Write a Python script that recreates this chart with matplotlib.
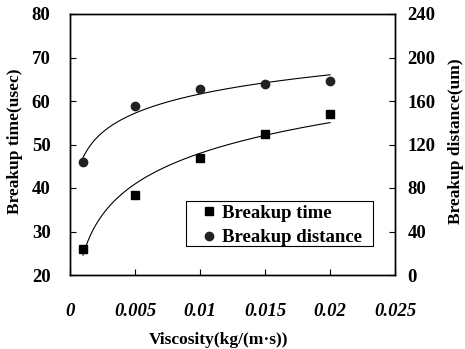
import numpy as np
import matplotlib
matplotlib.use("Agg")
import matplotlib.pyplot as plt
from matplotlib.lines import Line2D
from matplotlib.patches import Rectangle

viscosity = [0.001, 0.005, 0.01, 0.015, 0.02]
breakup_time = [26.0, 38.3, 46.8, 52.5, 57.0]
breakup_distance = [104, 155, 171, 176, 178]

xticks = [0, 0.005, 0.01, 0.015, 0.02, 0.025]
xticklabels = ["0", "0.005", "0.01", "0.015", "0.02", "0.025"]
yticks_left = [20, 30, 40, 50, 60, 70, 80]
yticks_right = [0, 40, 80, 120, 160, 200, 240]

plt.rcParams['font.family'] = ['Liberation Serif', 'DejaVu Serif']
plt.rcParams['font.weight'] = 'bold'

W, H = 465, 349
AX0, AY1, AW, AH = 70, 275, 325, 261
fig = plt.figure(figsize=(4.65, 3.49), dpi=100)
ax = fig.add_axes([AX0/W, 1-AY1/H, AW/W, AH/H])
ax2 = ax.twinx()

x = np.array(viscosity)
xf = np.linspace(x.min(), x.max(), 200)
c1 = np.polyfit(np.log(x), breakup_time, 1)
c2 = np.polyfit(np.log(x), breakup_distance, 1)

ax.plot(xf, np.polyval(c1, np.log(xf)), color='black', lw=0.8)
ax.plot(x, breakup_time, 's', color='black', ms=6)
ax2.plot(xf, np.polyval(c2, np.log(xf)), color='black', lw=0.8)
ax2.plot(x, breakup_distance, 'o', color='#222222', ms=6)

fs = 13.5
lfs = 12.5
ax.set_xlim(0, 0.025)
ax.set_ylim(20, 80)
ax2.set_ylim(0, 240)
ax.set_xticks(xticks)
ax.set_xticklabels(xticklabels, fontsize=fs, fontweight='bold', style='italic')
ax.set_yticks(yticks_left)
ax.set_yticklabels([str(v) for v in yticks_left], fontsize=fs, fontweight='bold')
ax2.set_yticks(yticks_right)
ax2.set_yticklabels([str(v) for v in yticks_right], fontsize=fs, fontweight='bold')

ax.tick_params(axis='x', direction='in', length=4, pad=20, width=0.8)
ax.tick_params(axis='y', direction='in', length=4, pad=14, width=0.8)
ax2.tick_params(axis='y', direction='in', length=4, pad=9, width=0.8)
for a in (ax, ax2):
    for s in a.spines.values():
        s.set_linewidth(1.0)

ax.set_xlabel("Viscosity(kg/(m\u00b7s))", fontsize=lfs, fontweight='bold')
ax.xaxis.set_label_coords((219-AX0)/AW, -(332-AY1)/AH)
ax.set_ylabel("Breakup time(usec)", fontsize=lfs, fontweight='bold')
ax.yaxis.set_label_coords(-(AX0-23)/AW, (AY1-141)/AH)
ax2.set_ylabel("Breakup distance(um)", fontsize=lfs, fontweight='bold')
ax2.yaxis.set_label_coords((448-AX0)/AW, (AY1-141)/AH)

# legend frame
ax.add_patch(Rectangle(((186-AX0)/AW, (AY1-246)/AH), 187/AW, 45/AH,
                       transform=ax.transAxes, facecolor='white',
                       edgecolor='black', lw=0.8, zorder=4))

handles = [Line2D([], [], marker='s', ls='none', color='black', ms=6),
           Line2D([], [], marker='o', ls='none', color='#222222', ms=6)]
leg = ax.legend(handles, ["Breakup time", "Breakup distance"],
                loc='upper left', bbox_to_anchor=((195-AX0)/AW, (AY1-199.7)/AH),
                prop={'size': fs, 'weight': 'bold'}, frameon=False,
                handletextpad=0.2, handlelength=1.0,
                borderpad=0.25, labelspacing=0.41, borderaxespad=0)
leg.set_zorder(5)

fig.savefig("out.png", dpi=100)
